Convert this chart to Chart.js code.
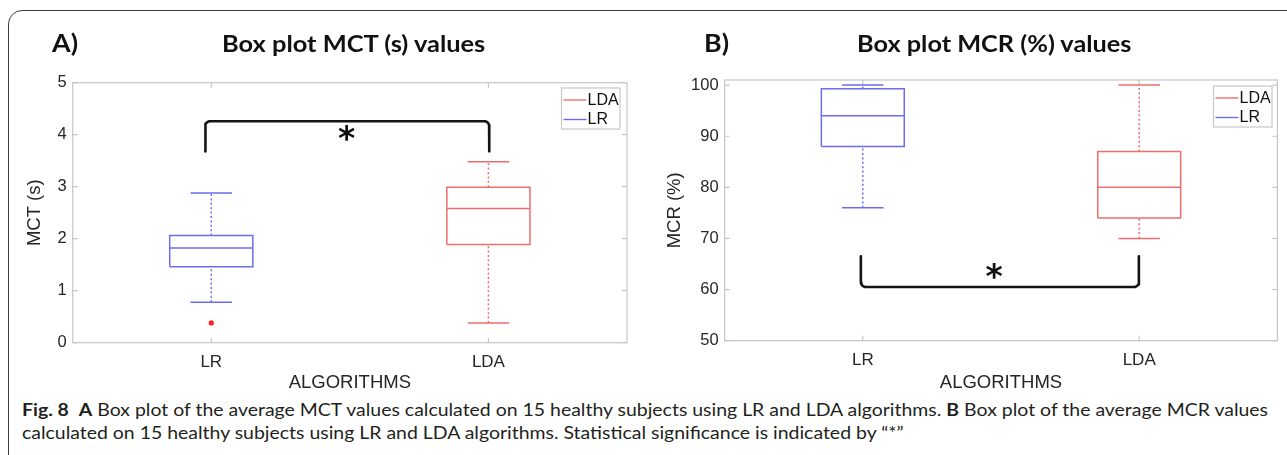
<!DOCTYPE html>
<html><head><meta charset="utf-8">
<script src="https://cdn.jsdelivr.net/npm/chart.js@4.4.1/dist/chart.umd.min.js"></script>
<style>
html,body{margin:0;padding:0;background:#fff;width:1287px;height:455px;overflow:hidden;position:relative;}
#frame{position:absolute;left:8px;top:10px;width:1330px;height:470px;border:1.5px solid #3c3c3c;border-radius:14px;box-sizing:border-box;}
canvas{position:absolute;top:0;}
#cA{left:0;}
#cB{left:640px;}
.t{position:absolute;font-family:Lato,'Open Sans',sans-serif;font-weight:700;color:#111;white-space:nowrap;line-height:1;transform-origin:0 0;}
.cap{position:absolute;left:22px;font-family:Lato,'Open Sans',sans-serif;font-size:16.5px;color:#231f20;white-space:nowrap;line-height:1;transform-origin:0 0;}
.cap b{font-weight:700;}
</style></head>
<body>
<div id="frame"></div>
<canvas id="cA" width="640" height="400"></canvas>
<canvas id="cB" width="647" height="400"></canvas>
<div class="t" id="pA" style="font-size:25px;">A)</div>
<div class="t" id="tA" style="font-size:23px;">Box plot MCT (s) values</div>
<div class="t" id="pB" style="font-size:25px;">B)</div>
<div class="t" id="tB" style="font-size:23px;">Box plot MCR (%) values</div>
<div class="cap" id="cap1"><b>Fig. 8</b>&nbsp; <b>A</b> Box plot of the average MCT values calculated on 15 healthy subjects using LR and LDA algorithms. <b>B</b> Box plot of the average MCR values</div>
<div class="cap" id="cap2">calculated on 15 healthy subjects using LR and LDA algorithms. Statistical significance is indicated by “*”</div>
<script>
// ---------- data ----------
const categories = ['LR', 'LDA'];
const legendNames = ['LDA', 'LR'];
// box statistics: [lower whisker, Q1, median, Q3, upper whisker]
const mctLR  = [0.78, 1.46, 1.82, 2.06, 2.88];
const mctLDA = [0.38, 1.89, 2.58, 2.99, 3.48];
const mctOutliersLR = [0.38];
const mctTicks = [0, 1, 2, 3, 4, 5];
const mctBracket = [0.978, 2.003, 4.26, 3.68]; // x start, x end, bar level, end level
const mctStar = [1.488, 4.03];

const mcrLR  = [76, 88, 94, 99.3, 100];
const mcrLDA = [70, 74, 80, 87, 100];
const mcrTicks = [50, 60, 70, 80, 90, 100];
const mcrBracket = [0.993, 1.999, 60.5, 66.5];
const mcrStar = [1.475, 63.7];

// ---------- styles ----------
const BLUE = '#6c6cf2';
const RED = '#f26c6c';
const AXIS = '#c6c6c6';
const BOX_HALF = 0.15, CAP_HALF = 0.075;

Chart.defaults.font.family = "'Liberation Sans', Arial, sans-serif";
Chart.defaults.color = '#262626';

function boxDatasets(stats, xc, color) {
  const [lo, q1, med, q3, hi] = stats;
  const gap = {x: xc, y: null};
  const common = {type: 'line', borderColor: color, pointRadius: 0, spanGaps: false, tension: 0, fill: false, borderWidth: 1.5};
  return [
    Object.assign({}, common, {data: [
      {x: xc - BOX_HALF, y: q1}, {x: xc + BOX_HALF, y: q1}, {x: xc + BOX_HALF, y: q3}, {x: xc - BOX_HALF, y: q3}, {x: xc - BOX_HALF, y: q1}, gap,
      {x: xc - BOX_HALF, y: med}, {x: xc + BOX_HALF, y: med}, gap,
      {x: xc - CAP_HALF, y: hi}, {x: xc + CAP_HALF, y: hi}, gap,
      {x: xc - CAP_HALF, y: lo}, {x: xc + CAP_HALF, y: lo}
    ]}),
    Object.assign({}, common, {borderDash: [2, 2.4], data: [
      {x: xc, y: q3}, {x: xc, y: hi}, gap, {x: xc, y: lo}, {x: xc, y: q1}
    ]})
  ];
}

function bracketData(b) {
  const [x1, x2, yBar, yEnd] = b;
  const rx = 0.018, ry = 0.17 * (yEnd - yBar);
  const pts = [{x: x1, y: yEnd}];
  for (let i = 0; i <= 6; i++) {
    const th = i / 6 * Math.PI / 2;
    pts.push({x: x1 + rx - rx * Math.cos(th), y: yBar + ry - ry * Math.sin(th)});
  }
  for (let i = 6; i >= 0; i--) {
    const th = i / 6 * Math.PI / 2;
    pts.push({x: x2 - rx + rx * Math.cos(th), y: yBar + ry - ry * Math.sin(th)});
  }
  pts.push({x: x2, y: yEnd});
  return pts;
}

const decorPlugin = {
  id: 'decor',
  beforeDatasetsDraw(chart) {
    const {ctx, chartArea: a, scales: {x, y}} = chart;
    ctx.save();
    ctx.strokeStyle = AXIS; ctx.lineWidth = 1.2;
    ctx.strokeRect(a.left, a.top, a.right - a.left, a.bottom - a.top);
    ctx.beginPath();
    y.ticks.forEach(t => {
      const py = y.getPixelForValue(t.value);
      ctx.moveTo(a.left, py); ctx.lineTo(a.left + 5, py);
      ctx.moveTo(a.right, py); ctx.lineTo(a.right - 5, py);
    });
    x.ticks.forEach(t => {
      const px = x.getPixelForValue(t.value);
      ctx.moveTo(px, a.bottom); ctx.lineTo(px, a.bottom - 5);
      ctx.moveTo(px, a.top); ctx.lineTo(px, a.top + 5);
    });
    ctx.stroke();
    ctx.restore();
  },
  afterDraw(chart) {
    const {ctx, chartArea: a, scales: {x, y}} = chart;
    const o = chart.options.plugins.decor;
    // asterisk
    ctx.save();
    ctx.fillStyle = '#111';
    ctx.font = "bold 33px 'DejaVu Sans'";
    ctx.textAlign = 'center'; ctx.textBaseline = 'alphabetic';
    const m = ctx.measureText('*');
    const cx = x.getPixelForValue(o.star[0]), cy = y.getPixelForValue(o.star[1]);
    ctx.fillText('*', cx, cy - (m.actualBoundingBoxDescent - m.actualBoundingBoxAscent) / 2);
    // legend
    const bw = 58.5, bh = 41;
    const bx = a.right - o.legRight - bw, by = a.top + o.legTop;
    ctx.fillStyle = '#fff';
    ctx.fillRect(bx, by, bw, bh);
    ctx.strokeStyle = '#c8c8c8'; ctx.lineWidth = 1.2;
    ctx.strokeRect(bx, by, bw, bh);
    ctx.font = "16px 'Liberation Sans', Arial";
    ctx.textAlign = 'left'; ctx.textBaseline = 'middle';
    legendNames.forEach((n, i) => {
      const ly = by + 12 + i * 19.5;
      ctx.strokeStyle = n === 'LDA' ? RED : BLUE; ctx.lineWidth = 1.4;
      ctx.beginPath(); ctx.moveTo(bx + 2, ly); ctx.lineTo(bx + 25, ly); ctx.stroke();
      ctx.fillStyle = '#111';
      ctx.fillText(n, bx + 26, ly + 0.5);
    });
    ctx.restore();
  }
};

function makeChart(id, W, H, area, spec) {
  const datasets = [
    ...boxDatasets(spec.lr, 1, BLUE),
    ...boxDatasets(spec.lda, 2, RED),
    {type: 'line', data: bracketData(spec.bracket), borderColor: '#141414', borderWidth: 2.6, pointRadius: 0, tension: 0, fill: false, borderCapStyle: 'round', borderJoinStyle: 'round'}
  ];
  if (spec.outliers) {
    datasets.push({type: 'line', showLine: false, data: spec.outliers.map(v => ({x: 1, y: v})), pointRadius: 2.6, pointBackgroundColor: '#ff2020', pointBorderWidth: 0});
  }
  return new Chart(document.getElementById(id), {
    type: 'line',
    data: {datasets},
    plugins: [decorPlugin],
    options: {
      responsive: false, animation: false,
      layout: {padding: {left: 0, top: area.top, right: W - area.right, bottom: 0}},
      plugins: {legend: {display: false}, tooltip: {enabled: false},
        decor: {star: spec.star, legRight: spec.legRight, legTop: spec.legTop}},
      scales: {
        x: {
          type: 'linear', min: 0.5, max: 2.5,
          afterBuildTicks: s => { s.ticks = categories.map((c, i) => ({value: i + 1})); },
          afterFit: s => { s.height = H - area.bottom; },
          grid: {display: false, drawTicks: false}, border: {display: false},
          ticks: {callback: v => categories[v - 1], font: {size: 17}, color: '#262626', padding: 9, autoSkip: false, maxRotation: 0, minRotation: 0},
          title: {display: true, text: 'ALGORITHMS', font: {size: 18.5}, color: '#262626', padding: {top: 0, bottom: 5.9}}
        },
        y: {
          type: 'linear', min: spec.yMin, max: spec.yMax,
          afterBuildTicks: s => { s.ticks = spec.ticks.map(v => ({value: v})); },
          afterFit: s => { s.width = area.left; },
          grid: {display: false, drawTicks: false}, border: {display: false},
          ticks: {font: {size: 16.5}, color: '#262626', padding: 6},
          title: {display: true, text: spec.yTitle, font: {size: 18.5}, color: '#262626', padding: {top: spec.yTitlePad, bottom: 0}}
        }
      }
    }
  });
}

makeChart('cA', 640, 400, {left: 72.7, top: 82.7, right: 627, bottom: 342.7}, {
  lr: mctLR, lda: mctLDA, outliers: mctOutliersLR, ticks: mctTicks, yMin: 0, yMax: 5,
  bracket: mctBracket, star: mctStar, yTitle: 'MCT (s)', yTitlePad: 24, legRight: 7, legTop: 5.3
});
makeChart('cB', 647, 400, {left: 84.6, top: 80, right: 637.4, bottom: 340.7}, {
  lr: mcrLR, lda: mcrLDA, ticks: mcrTicks, yMin: 50, yMax: 101,
  bracket: mcrBracket, star: mcrStar, yTitle: 'MCR (%)', yTitlePad: 24, legRight: 5.4, legTop: 6
});

// ---------- text placement ----------
function place(id, left, baseline, width) {
  const el = document.getElementById(id);
  const fs = parseFloat(el.style.fontSize || getComputedStyle(el).fontSize);
  el.style.left = left + 'px';
  el.style.top = (baseline - 0.887 * fs) + 'px';
  if (width) {
    const w = el.getBoundingClientRect().width;
    el.style.transform = 'scaleX(' + (width / w) + ')';
  }
  return el;
}
place('pA', 52, 52, 26);
place('tA', 222.4, 52, 263.3);
place('pB', 704, 52.5, 25);
place('tB', 856.6, 52, 274.4);
const c1 = document.getElementById('cap1'), c2 = document.getElementById('cap2');
const capFs = 16.5;
c1.style.top = (417 - 0.887 * capFs) + 'px';
c2.style.top = (440 - 0.887 * capFs) + 'px';
const sc = 1246 / c1.getBoundingClientRect().width;
c1.style.transform = 'scaleX(' + sc + ')';
c2.style.transform = 'scaleX(' + sc + ')';
</script>
</body></html>
